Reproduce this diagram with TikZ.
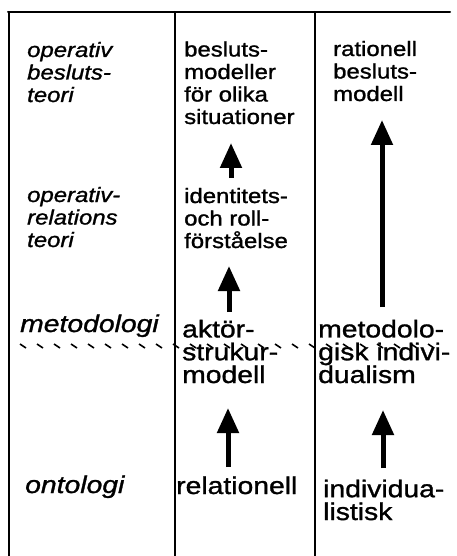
\documentclass[tikz,border=0pt]{standalone}
\usepackage{fontspec}
\usetikzlibrary{arrows.meta}
\newfontfamily\upsans[FakeStretch=1.15,FakeBold=1.2]{Liberation Sans}
\newfontfamily\losans[FakeStretch=1.17,FakeBold=1.2]{Liberation Sans}
\tikzset{
  frame/.style={line width=2pt, line cap=round},
  uptext/.style={anchor=base west, inner sep=0pt, align=left, font=\upsans\fontsize{20.8}{22.5}\selectfont},
  lotext/.style={anchor=base west, inner sep=0pt, align=left, font=\losans\fontsize{24.2}{22.8}\selectfont},
  bigarrow/.style={line width=5pt, -{Triangle[length=25pt,width=21pt]}},
  dashseg/.style={line width=1.6pt},
}
\begin{document}
\begin{tikzpicture}[x=1pt,y=-1pt]
\useasboundingbox (0,0) rectangle (456,556);
% frame
\coordinate (tl) at (8,12);
\coordinate (tr) at (450,12);
\coordinate (bl) at (9,556);
\coordinate (c1t) at (175,12);
\coordinate (c1b) at (175,556);
\coordinate (c2t) at (315,12);
\coordinate (c2b) at (315,556);
\draw[frame] (tl) -- (tr);
\draw[frame] (9,12) -- (bl);
\draw[frame] (c1t) -- (c1b);
\draw[frame] (c2t) -- (c2b);
% dashed separator
\foreach \x in {20,37,...,440} {
  \draw[dashseg] (\x,344) -- (\x+6,348);
}
% column 1 (positions are the baselines of the last lines)
\node[uptext] (obt) at (27,102) {\itshape operativ\\\itshape besluts-\\\itshape teori};
\node[uptext] (ort) at (27,247) {\itshape operativ-\\\itshape relations\\\itshape teori};
\node[lotext] (met) at (20,332) {\itshape metodologi};
\node[lotext] (ont) at (25,493) {\itshape ontologi};
% column 2
\node[uptext] (bm) at (184,124) {besluts-\\modeller\\för olika\\situationer};
\node[uptext] (ir) at (184,248) {identitets-\\och roll-\\förståelse};
\node[lotext] (ask) at (182,383) {aktör-\\strukur-\\modell};
\node[lotext] (rel) at (176,494) {relationell};
% column 3
\node[uptext] (rbm) at (333,101) {rationell\\besluts-\\modell};
\node[lotext] (mi) at (318,383) {metodolo-\\gisk indivi-\\dualism};
\node[lotext] (ind) at (323,520) {individua-\\listisk};
% arrows
\coordinate (a1s) at (231,178);
\coordinate (a1e) at (231,143);
\coordinate (a2s) at (229,312);
\coordinate (a2e) at (229,266);
\coordinate (a3s) at (382,307);
\coordinate (a3e) at (382,120);
\coordinate (a4s) at (228,467);
\coordinate (a4e) at (228,408);
\coordinate (a5s) at (383,468);
\coordinate (a5e) at (383,410);
\draw[bigarrow] (a1s) -- (a1e);
\draw[bigarrow] (a2s) -- (a2e);
\draw[bigarrow] (a3s) -- (a3e);
\draw[bigarrow] (a4s) -- (a4e);
\draw[bigarrow] (a5s) -- (a5e);
\end{tikzpicture}
\end{document}
